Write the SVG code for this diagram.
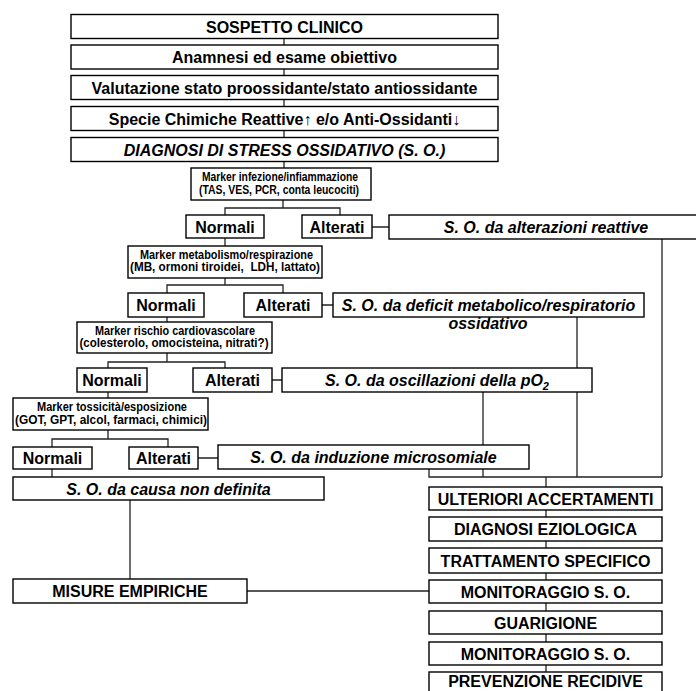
<svg xmlns="http://www.w3.org/2000/svg" width="696" height="691" viewBox="0 0 696 691">
<style>
.b{fill:#fff;stroke:#000;stroke-width:1.4}
.t{font-family:"Liberation Sans",Arial,sans-serif;font-weight:bold;font-size:16px;text-anchor:middle;fill:#000}
.i{font-style:italic}
.m{font-family:"Liberation Sans Narrow","Liberation Sans",Arial,sans-serif;font-weight:bold;font-size:12.5px;text-anchor:middle;fill:#000;white-space:pre}
.c{fill:none;stroke:#222;stroke-width:1.3}
</style>
<rect width="696" height="691" fill="#fff"/>
<g id="connectors" class="c">
<path d="M284 38.5V45M284 69V75.5M284 99.5V106.5M284 130.5V137.5M284 161.5V168"/>
<path d="M283 200V208M225 215V208H340V215M372 227H389M662 239V477"/>
<path d="M225 238V246M225 278V285M167 293V285H283V293M322 305H333M577 317V477"/>
<path d="M167 317V322M167 353V362M108 368V362H225V368M272 380H282M483 392V445"/>
<path d="M108 392V398M108 430V439M52 447V439H168V447M198 458H218"/>
<path d="M429 469V477H662M483 469V477M546 477V487M52 469V477M130 500V579M247 591H429"/>
<path d="M546 510V517M546 541V548M546 573V580M546 603V611M546 634V642M546 665V672"/>
</g>
<g id="n1"><rect class="b" x="71" y="14.5" width="427" height="24"/><text class="t" x="284.5" y="32.5">SOSPETTO CLINICO</text></g>
<g id="n2"><rect class="b" x="71" y="45" width="427" height="24"/><text class="t" x="284.5" y="63">Anamnesi ed esame obiettivo</text></g>
<g id="n3"><rect class="b" x="71" y="75.5" width="427" height="24"/><text class="t" x="284.5" y="93.5">Valutazione stato proossidante/stato antiossidante</text></g>
<g id="n4"><rect class="b" x="71" y="106.5" width="427" height="24"/><text class="t" x="284.5" y="124.5">Specie Chimiche Reattive<tspan font-weight="normal">↑</tspan> e/o Anti-Ossidanti<tspan font-weight="normal">↓</tspan></text></g>
<g id="n5"><rect class="b" x="71" y="137.5" width="427" height="24"/><text class="t i" x="284.5" y="155.5">DIAGNOSI DI STRESS OSSIDATIVO (S. O.)</text></g>
<g id="m1"><rect class="b" x="191" y="168" width="180" height="32"/><text class="m" x="280" y="180.5" textLength="156" lengthAdjust="spacingAndGlyphs">Marker infezione/infiammazione</text><text class="m" x="279" y="193.5" textLength="160" lengthAdjust="spacingAndGlyphs">(TAS, VES, PCR, conta leucociti)</text></g>
<g id="norm1"><rect class="b" x="186" y="215" width="78" height="23"/><text class="t" x="225" y="233">Normali</text></g>
<g id="alt1"><rect class="b" x="302" y="215" width="70" height="23"/><text class="t" x="337" y="233">Alterati</text></g>
<g id="so1"><rect class="b" x="389" y="215" width="310" height="24"/><text class="t i" x="546" y="233">S. O. da alterazioni reattive</text></g>
<g id="m2"><rect class="b" x="128" y="246" width="194" height="32"/><text class="m" x="226.5" y="258.5" textLength="173" lengthAdjust="spacingAndGlyphs">Marker metabolismo/respirazione</text><text class="m" x="225" y="271" textLength="190" lengthAdjust="spacingAndGlyphs">(MB, ormoni tiroidei,  LDH, lattato)</text></g>
<g id="norm2"><rect class="b" x="128" y="293" width="76" height="24"/><text class="t" x="166" y="311">Normali</text></g>
<g id="alt2"><rect class="b" x="244" y="293" width="78" height="24"/><text class="t" x="283" y="311">Alterati</text></g>
<g id="so2"><rect class="b" x="333" y="293" width="311" height="24"/><text class="t i" x="488.5" y="311">S. O. da deficit metabolico/respiratorio</text><text class="t i" x="488" y="328.5">ossidativo</text></g>
<g id="m3"><rect class="b" x="77" y="322" width="195" height="31"/><text class="m" x="175" y="334.5" textLength="160" lengthAdjust="spacingAndGlyphs">Marker rischio cardiovascolare</text><text class="m" x="174" y="347" textLength="189" lengthAdjust="spacingAndGlyphs">(colesterolo, omocisteina, nitrati?)</text></g>
<g id="norm3"><rect class="b" x="77" y="368" width="70" height="24"/><text class="t" x="112" y="386">Normali</text></g>
<g id="alt3"><rect class="b" x="193" y="368" width="79" height="24"/><text class="t" x="232.5" y="386">Alterati</text></g>
<g id="so3"><rect class="b" x="282" y="368" width="310" height="24"/><text class="t i" x="437" y="386">S. O. da oscillazioni della pO<tspan font-size="11" dy="4">2</tspan></text></g>
<g id="m4"><rect class="b" x="13" y="398" width="195" height="32"/><text class="m" x="112" y="410.5" textLength="150" lengthAdjust="spacingAndGlyphs">Marker tossicità/esposizione</text><text class="m" x="111" y="423.5" textLength="192" lengthAdjust="spacingAndGlyphs">(GOT, GPT, alcol, farmaci, chimici)</text></g>
<g id="norm4"><rect class="b" x="13" y="447" width="79" height="22"/><text class="t" x="52.5" y="464">Normali</text></g>
<g id="alt4"><rect class="b" x="129" y="447" width="69" height="22"/><text class="t" x="163.5" y="464">Alterati</text></g>
<g id="so4"><rect class="b" x="218" y="445" width="311" height="24"/><text class="t i" x="373.5" y="463">S. O. da induzione microsomiale</text></g>
<g id="so5"><rect class="b" x="13" y="477" width="311" height="23"/><text class="t i" x="168.5" y="494.5">S. O. da causa non definita</text></g>
<g id="misure"><rect class="b" x="13" y="579" width="234" height="24"/><text class="t" x="130" y="597">MISURE EMPIRICHE</text></g>
<g id="r1"><rect class="b" x="429" y="487" width="233" height="23"/><text class="t" x="545.5" y="504.5">ULTERIORI ACCERTAMENTI</text></g>
<g id="r2"><rect class="b" x="429" y="517" width="233" height="24"/><text class="t" x="545.5" y="535">DIAGNOSI EZIOLOGICA</text></g>
<g id="r3"><rect class="b" x="429" y="548" width="233" height="25"/><text class="t" x="545.5" y="566.5">TRATTAMENTO SPECIFICO</text></g>
<g id="r4"><rect class="b" x="429" y="580" width="233" height="23"/><text class="t" x="545.5" y="597.5">MONITORAGGIO S. O.</text></g>
<g id="r5"><rect class="b" x="429" y="611" width="233" height="23"/><text class="t" x="545.5" y="628.5">GUARIGIONE</text></g>
<g id="r6"><rect class="b" x="429" y="642" width="233" height="23"/><text class="t" x="545.5" y="659.5">MONITORAGGIO S. O.</text></g>
<g id="r7"><rect class="b" x="429" y="672" width="233" height="25"/><text class="t" x="545.5" y="687">PREVENZIONE RECIDIVE</text></g>
</svg>
